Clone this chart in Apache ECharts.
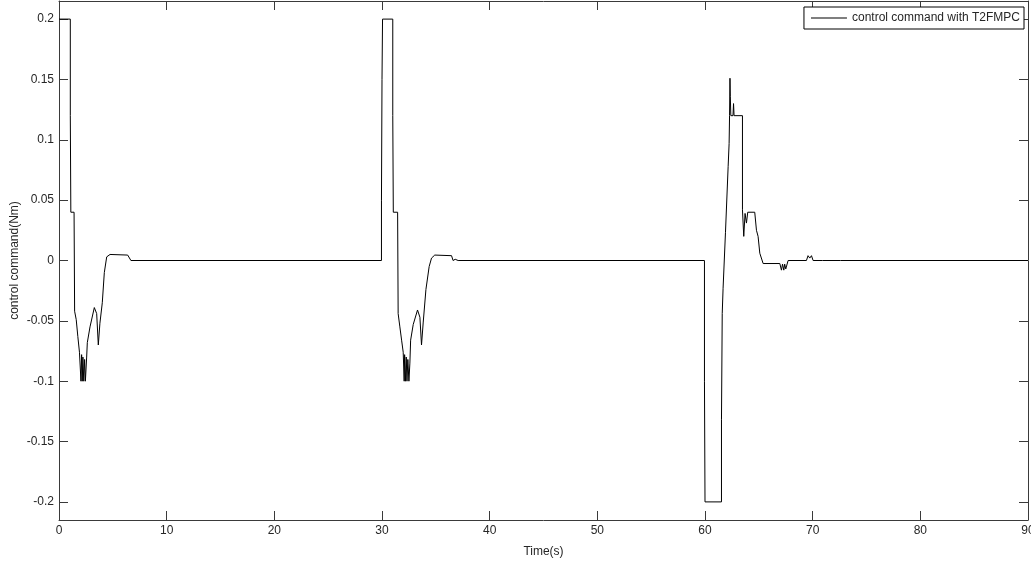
<!DOCTYPE html>
<html>
<head>
<meta charset="utf-8">
<script src="https://cdn.jsdelivr.net/npm/echarts@6/dist/echarts.min.js"></script>
<style>
  html, body { margin: 0; padding: 0; background: #fff; }
  #chart { width: 1031px; height: 561px; }
</style>
</head>
<body>
<div id="chart"></div>
<script>
// time (s), command (Nm)
const firstPulse = [
  [0, 0.2], [1.05, 0.2], [1.05, 0.12], [1.1, 0.12], [1.1, 0.04], [1.4, 0.04],
  [1.45, -0.042], [1.6, -0.049], [1.75, -0.063], [1.9, -0.076], [2.04, -0.1],
  [2.1, -0.078], [2.16, -0.1], [2.22, -0.08], [2.3, -0.1], [2.38, -0.082],
  [2.45, -0.1], [2.57, -0.08], [2.63, -0.068], [2.88, -0.055], [3.28, -0.039],
  [3.5, -0.044], [3.65, -0.07], [3.8, -0.052], [4.02, -0.035], [4.21, -0.01],
  [4.43, 0.003], [4.74, 0.005], [6.38, 0.0045], [6.5, 0.003], [6.68, 0], [29.95, 0],
];
const secondPulse = [
  [29.95, 0.05], [30.0, 0.05], [30.0, 0.15], [30.05, 0.15], [30.05, 0.2],
  [31.0, 0.2], [31.0, 0.12], [31.05, 0.12], [31.05, 0.04], [31.45, 0.04],
  [31.5, -0.044], [31.66, -0.055], [31.82, -0.066], [31.97, -0.076], [32.06, -0.1],
  [32.1, -0.078], [32.18, -0.1], [32.25, -0.08], [32.32, -0.1], [32.4, -0.082],
  [32.5, -0.1], [32.59, -0.085], [32.66, -0.066], [32.9, -0.053], [33.3, -0.041],
  [33.52, -0.047], [33.67, -0.07], [33.83, -0.051], [34.08, -0.024], [34.38, -0.005],
  [34.6, 0.002], [34.9, 0.0045], [36.46, 0.004], [36.6, 0], [36.8, 0.001],
  [37.07, 0], [59.95, 0],
];
const thirdPulse = [
  [59.95, -0.1], [60.0, -0.1], [60.0, -0.2], [61.53, -0.2], [61.53, -0.132],
  [61.6, -0.044], [61.68, -0.023], [61.72, -0.023], [61.9, 0.023], [62.15, 0.078],
  [62.24, 0.097], [62.28, 0.12], [62.32, 0.151], [62.35, 0.136], [62.4, 0.12],
  [62.6, 0.12], [62.65, 0.13], [62.7, 0.12], [63.48, 0.12], [63.48, 0.042],
  [63.6, 0.02], [63.72, 0.039], [63.85, 0.031], [63.97, 0.04], [64.62, 0.04],
  [64.78, 0.025], [64.93, 0.02], [65.09, 0.006], [65.4, -0.0025], [66.95, -0.0025],
  [67.1, -0.008], [67.2, -0.003], [67.32, -0.008], [67.4, -0.003], [67.5, -0.007],
  [67.72, 0], [69.42, 0], [69.57, 0.004], [69.73, 0.002], [69.89, 0.004],
  [70.04, 0], [70.9, 0], [70.97, -0.001], [71.05, 0], [72.6, 0], [72.67, -0.001],
  [72.75, 0], [90, 0],
];
const yTicks = [-0.2, -0.15, -0.1, -0.05, 0, 0.05, 0.1, 0.15, 0.2];

const font = '"Liberation Sans", Arial, sans-serif';
const axisColor = "#3a3a3a";
const textColor = "#262626";

const chart = echarts.init(document.getElementById("chart"));

const xBase = {
  type: "value",
  min: 0,
  max: 90,
  interval: 10,
  splitLine: { show: false },
  axisLine: { onZero: false, lineStyle: { color: axisColor, width: 1 } },
  axisTick: { inside: true, length: 9, lineStyle: { color: axisColor } },
};
const yBase = {
  type: "value",
  min: -0.215,
  max: 0.215,
  splitLine: { show: false },
  axisLine: { onZero: false, lineStyle: { color: axisColor, width: 1 } },
  axisTick: { inside: true, length: 9, customValues: yTicks, lineStyle: { color: axisColor } },
};

chart.setOption({
  animation: false,
  backgroundColor: "#fff",
  grid: { left: 59, right: 3, top: 1, bottom: 41, containLabel: false, outerBoundsMode: "none" },
  legend: {
    right: 7,
    top: 7,
    orient: "vertical",
    backgroundColor: "#fff",
    borderColor: "#000",
    borderWidth: 1,
    borderRadius: 0,
    padding: [5, 4, 5, 7],
    icon: "rect",
    itemWidth: 36,
    itemHeight: 1,
    itemGap: 0,
    itemStyle: { color: "#000" },
    textStyle: { fontFamily: font, fontSize: 12, color: textColor },
    data: ["control command with T2FMPC"],
  },
  xAxis: [
    {
      ...xBase,
      position: "bottom",
      name: "Time(s)",
      nameLocation: "middle",
      nameGap: 26,
      nameMoveOverlap: false,
      nameTextStyle: { fontFamily: font, fontSize: 12, color: textColor },
      axisLabel: { fontFamily: font, fontSize: 12, color: textColor, margin: 5 },
    },
    { ...xBase, position: "top", axisLabel: { show: false } },
  ],
  yAxis: [
    {
      ...yBase,
      position: "left",
      name: "control command(Nm)",
      nameLocation: "middle",
      nameGap: 38,
      nameMoveOverlap: false,
      nameTextStyle: { fontFamily: font, fontSize: 12, color: textColor },
      axisLabel: {
        fontFamily: font,
        fontSize: 12,
        color: textColor,
        margin: 5,
        customValues: yTicks,
        formatter: (v) => String(v),
      },
    },
    { ...yBase, position: "right", axisLabel: { show: false } },
  ],
  series: [
    {
      name: "control command with T2FMPC",
      type: "line",
      symbol: "none",
      lineStyle: { color: "#000", width: 1 },
      itemStyle: { color: "#000" },
      data: [...firstPulse, ...secondPulse, ...thirdPulse],
    },
  ],
});
</script>
</body>
</html>
